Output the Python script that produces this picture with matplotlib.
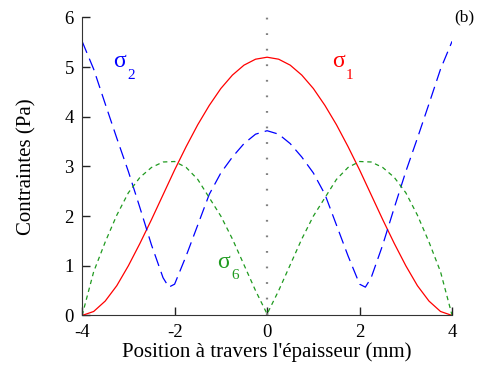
import numpy as np
import matplotlib
matplotlib.use('Agg')
import matplotlib.pyplot as plt

# Stresses across the thickness
x = [-4, -3.75, -3.5, -3.25, -3, -2.75, -2.5, -2.25, -2, -1.75, -1.5, -1.25, -1, -0.75, -0.5, -0.25, 0,
     0.25, 0.5, 0.75, 1, 1.25, 1.5, 1.75, 2, 2.25, 2.5, 2.75, 3, 3.25, 3.5, 3.75, 4]

sigma1 = [0, 0.08, 0.29, 0.60, 1.00, 1.45, 1.93, 2.43, 2.93, 3.40, 3.84, 4.23, 4.57, 4.84, 5.04, 5.16, 5.20,
          5.16, 5.04, 4.84, 4.57, 4.23, 3.84, 3.40, 2.93, 2.43, 1.93, 1.45, 1.00, 0.60, 0.29, 0.08, 0]

sigma6 = [0, 0.88, 1.48, 2.02, 2.47, 2.78, 2.98, 3.09, 3.10, 2.98, 2.74, 2.37, 2.00, 1.54, 1.02, 0.50, 0.03,
          0.50, 1.02, 1.54, 2.00, 2.37, 2.74, 2.98, 3.10, 3.09, 2.98, 2.78, 2.47, 2.02, 1.48, 0.88, 0]

# sigma2 has a sharper minimum, so it gets a few extra points
x2 = [-4, -3.75, -3.5, -3.25, -3, -2.75, -2.5, -2.25, -2.125, -2, -1.75, -1.5, -1.25, -1, -0.75, -0.5, -0.25, 0,
      0.25, 0.5, 0.75, 1, 1.25, 1.5, 1.75, 2, 2.125, 2.25, 2.5, 2.75, 3, 3.25, 3.5, 3.75, 4]
sigma2 = [5.52, 4.96, 4.26, 3.57, 2.90, 2.17, 1.42, 0.76, 0.57, 0.63, 1.20, 1.82, 2.44, 2.87, 3.19, 3.46, 3.65, 3.72,
          3.65, 3.46, 3.19, 2.87, 2.44, 1.82, 1.20, 0.63, 0.57, 0.76, 1.42, 2.17, 2.90, 3.57, 4.26, 4.96, 5.52]

xticks = [-4, -2, 0, 2, 4]
yticks = [0, 1, 2, 3, 4, 5, 6]

plt.rcParams['font.family'] = ['Liberation Serif', 'DejaVu Serif']

fig = plt.figure(figsize=(4.83, 3.72), dpi=100)
ax = fig.add_axes([0.170, 0.152, 0.766, 0.801])

green = '#1f9a1f'

# vertical dotted line in the middle
ax.plot([0, 0], [0, 6], color='#808080', lw=1.6, linestyle=(0, (0.8, 6.2)))

ax.plot(x, sigma1, color='red', lw=0.9)
ax.plot(x2, sigma2, color='blue', lw=0.9, linestyle=(0, (10, 5)))
ax.plot(x, sigma6, color=green, lw=0.9, linestyle=(0, (3.5, 3)))

# curve labels
ax.text(-3.34, 5.0, 'σ', color='blue', fontsize=17)
ax.text(-3.03, 4.76, '2', color='blue', fontsize=11)
ax.text(1.41, 5.0, 'σ', color='red', fontsize=17)
ax.text(1.70, 4.76, '1', color='red', fontsize=11)
ax.text(-1.07, 0.96, 'σ', color=green, fontsize=17)
ax.text(-0.77, 0.73, '6', color=green, fontsize=11)

ax.text(4.05, 5.92, '(b)', fontsize=12.5, clip_on=False)

ax.set_xlim(-4, 4)
ax.set_ylim(0, 6)
ax.set_xticks(xticks)
ax.set_yticks(yticks)
ax.set_xticklabels([str(t) for t in xticks])
ax.set_yticklabels([str(t) for t in yticks])

# only left and bottom axes, ticks pointing inward
ax.spines['top'].set_visible(False)
ax.spines['right'].set_visible(False)
ax.spines['left'].set_color('#333333')
ax.spines['bottom'].set_color('#333333')
ax.tick_params(direction='in', length=6, width=1, color='#222222', labelsize=13.5, pad=6)

ax.set_xlabel("Position à travers l'épaisseur (mm)", fontsize=15, labelpad=1)
ax.set_ylabel('Contraintes (Pa)', fontsize=15, labelpad=20)

plt.savefig('out.png', dpi=100)
